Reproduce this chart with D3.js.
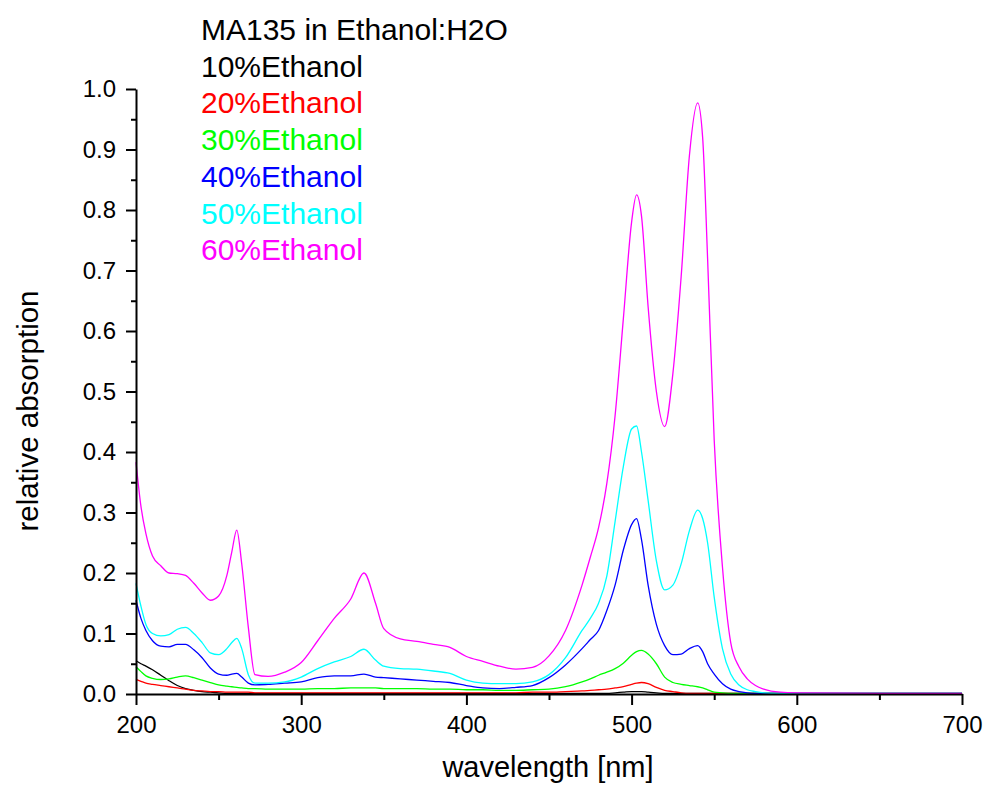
<!DOCTYPE html>
<html>
<head>
<meta charset="utf-8">
<script src="https://cdn.jsdelivr.net/npm/d3@7"></script>
<style>
  html, body { margin: 0; padding: 0; background: #fff; }
  svg { display: block; font-family: "Liberation Sans", Arial, sans-serif; }
</style>
</head>
<body>
<svg id="chart" width="989" height="792"></svg>
<script>
// wavelength grid [nm]
const wavelengths = [200,203,206,210,215,220,225,230,235,240,245,250,255,258,261,264,268,272,280,290,
  300,310,320,330,338,345,350,360,370,380,390,400,410,420,430,440,450,460,470,475,480,485,490,495,
  500,503,506,510,515,520,525,530,535,540,543,546,550,555,560,565,570,575,580,590,600,650,700];

const eth10 = [0.055,0.050,0.046,0.040,0.031,0.022,0.014,0.009,0.006,0.004,0.003,0.002,0.001,0.001,0.001,0.001,0.001,0.001,0.001,0.001,
  0.001,0.001,0.001,0.001,0.001,0.001,0.001,0.001,0.001,0.001,0.001,0.001,0.001,0.001,0.001,0.001,0.001,0.001,0.001,0.001,0.001,0.001,0.002,0.003,
  0.004,0.004,0.004,0.003,0.002,0.001,0.001,0.001,0.001,0.001,0.001,0.001,0.001,0.001,0.001,0.001,0.001,0.001,0.001,0.001,0.001,0.001,0.001];

const eth20 = [0.024,0.021,0.018,0.016,0.014,0.012,0.010,0.008,0.006,0.005,0.004,0.004,0.003,0.003,0.003,0.003,0.003,0.002,0.002,0.002,
  0.002,0.002,0.002,0.002,0.002,0.002,0.002,0.002,0.002,0.002,0.002,0.002,0.002,0.002,0.002,0.003,0.003,0.004,0.005,0.006,0.007,0.008,0.010,0.012,
  0.016,0.018,0.019,0.017,0.011,0.006,0.004,0.002,0.001,0.001,0.001,0.001,0.001,0.001,0.001,0.001,0.001,0.001,0.001,0.001,0.001,0.001,0.001];

const eth30 = [0.045,0.037,0.030,0.026,0.024,0.025,0.028,0.030,0.027,0.023,0.019,0.015,0.013,0.012,0.011,0.010,0.009,0.009,0.008,0.008,
  0.008,0.009,0.009,0.010,0.010,0.010,0.009,0.009,0.009,0.008,0.008,0.007,0.007,0.006,0.006,0.007,0.008,0.012,0.020,0.025,0.031,0.036,0.042,0.051,
  0.064,0.070,0.072,0.066,0.050,0.028,0.019,0.016,0.014,0.012,0.010,0.007,0.003,0.002,0.001,0.001,0.001,0.001,0.001,0.001,0.001,0.001,0.001];

const eth40 = [0.155,0.125,0.105,0.088,0.079,0.078,0.082,0.082,0.073,0.060,0.043,0.033,0.031,0.033,0.034,0.028,0.018,0.015,0.016,0.018,
  0.020,0.027,0.030,0.030,0.033,0.028,0.027,0.025,0.023,0.021,0.019,0.014,0.010,0.009,0.011,0.014,0.027,0.048,0.075,0.090,0.105,0.138,0.180,0.238,
  0.280,0.290,0.255,0.180,0.115,0.080,0.065,0.066,0.075,0.080,0.070,0.050,0.033,0.017,0.008,0.004,0.002,0.001,0.001,0.001,0.001,0.001,0.001];

const eth50 = [0.183,0.145,0.115,0.100,0.096,0.098,0.107,0.110,0.100,0.085,0.068,0.065,0.075,0.085,0.092,0.075,0.032,0.018,0.018,0.020,
  0.028,0.042,0.053,0.062,0.074,0.056,0.046,0.042,0.041,0.038,0.034,0.023,0.018,0.017,0.017,0.020,0.032,0.060,0.105,0.125,0.150,0.195,0.285,0.376,
  0.438,0.443,0.400,0.320,0.220,0.172,0.180,0.215,0.270,0.304,0.290,0.250,0.160,0.075,0.033,0.015,0.007,0.004,0.002,0.001,0.001,0.001,0.001];

const eth60 = [0.383,0.310,0.265,0.228,0.212,0.200,0.199,0.196,0.183,0.167,0.155,0.162,0.196,0.235,0.271,0.215,0.110,0.032,0.029,0.036,
  0.052,0.088,0.125,0.157,0.200,0.150,0.108,0.091,0.087,0.082,0.077,0.062,0.054,0.046,0.041,0.044,0.063,0.105,0.180,0.226,0.275,0.348,0.460,0.620,
  0.780,0.825,0.790,0.640,0.500,0.442,0.530,0.690,0.890,0.977,0.920,0.720,0.420,0.210,0.085,0.045,0.025,0.014,0.008,0.003,0.002,0.001,0.001];

const seriesNames = ['10%Ethanol','20%Ethanol','30%Ethanol','40%Ethanol','50%Ethanol','60%Ethanol'];
const seriesValues = [eth10, eth20, eth30, eth40, eth50, eth60];
const seriesColors = ['#000000','#ff0000','#00ff00','#0000ff','#00ffff','#ff00ff'];

const chartTitle = 'MA135 in Ethanol:H2O';
const xTicks = [200,300,400,500,600,700];
const xMinor = [250,350,450,550,650];
const yTicks = d3.range(0, 11).map(i => i / 10);
const yMinor = d3.range(0, 10).map(i => i / 10 + 0.05);

const svg = d3.select('#chart');

const x = d3.scaleLinear().domain([200, 700]).range([136, 962]);
const y = d3.scaleLinear().domain([0, 1]).range([694, 89]);

// data lines
const line = d3.line()
  .x(d => x(d[0]))
  .y(d => y(d[1]))
  .curve(d3.curveMonotoneX);

svg.append('g')
  .selectAll('path')
  .data(seriesValues)
  .join('path')
  .attr('d', v => line(wavelengths.map((w, i) => [w, v[i]])))
  .attr('fill', 'none')
  .attr('stroke', (d, i) => seriesColors[i])
  .attr('stroke-width', 1.3);

// axes
svg.append('g')
  .attr('transform', 'translate(0,694)')
  .call(d3.axisBottom(x).tickValues(xTicks).tickFormat(d3.format('d'))
    .tickSize(11).tickSizeOuter(0).tickPadding(11));

svg.append('g')
  .attr('transform', 'translate(0,694)')
  .call(d3.axisBottom(x).tickValues(xMinor).tickFormat('').tickSize(6).tickSizeOuter(0))
  .call(g => g.select('.domain').remove());

svg.append('g')
  .attr('transform', 'translate(136,0)')
  .call(d3.axisLeft(y).tickValues(yTicks).tickFormat(d3.format('.1f'))
    .tickSize(10).tickSizeOuter(0).tickPadding(10));

svg.append('g')
  .attr('transform', 'translate(136,0)')
  .call(d3.axisLeft(y).tickValues(yMinor).tickFormat('').tickSize(5).tickSizeOuter(0))
  .call(g => g.select('.domain').remove());

svg.selectAll('.domain, .tick line')
  .attr('stroke', '#000')
  .attr('stroke-width', 2);

svg.selectAll('.tick text')
  .attr('fill', '#000')
  .style('font-size', '24px')
  .style('font-family', '"Liberation Sans", Arial, sans-serif');

// axis titles
svg.append('text')
  .attr('x', 548)
  .attr('y', 777)
  .attr('text-anchor', 'middle')
  .style('font-size', '29px')
  .text('wavelength [nm]');

svg.append('text')
  .attr('transform', 'translate(38,411) rotate(-90)')
  .attr('text-anchor', 'middle')
  .style('font-size', '29.5px')
  .text('relative absorption');

// title + legend
svg.append('text')
  .attr('x', 201)
  .attr('y', 40)
  .style('font-size', '30px')
  .text(chartTitle);

svg.append('g')
  .selectAll('text')
  .data(seriesNames)
  .join('text')
  .attr('x', 201)
  .attr('y', (d, i) => 76.7 + i * 36.7)
  .attr('fill', (d, i) => seriesColors[i])
  .style('font-size', '30px')
  .text(d => d);
</script>
</body>
</html>
